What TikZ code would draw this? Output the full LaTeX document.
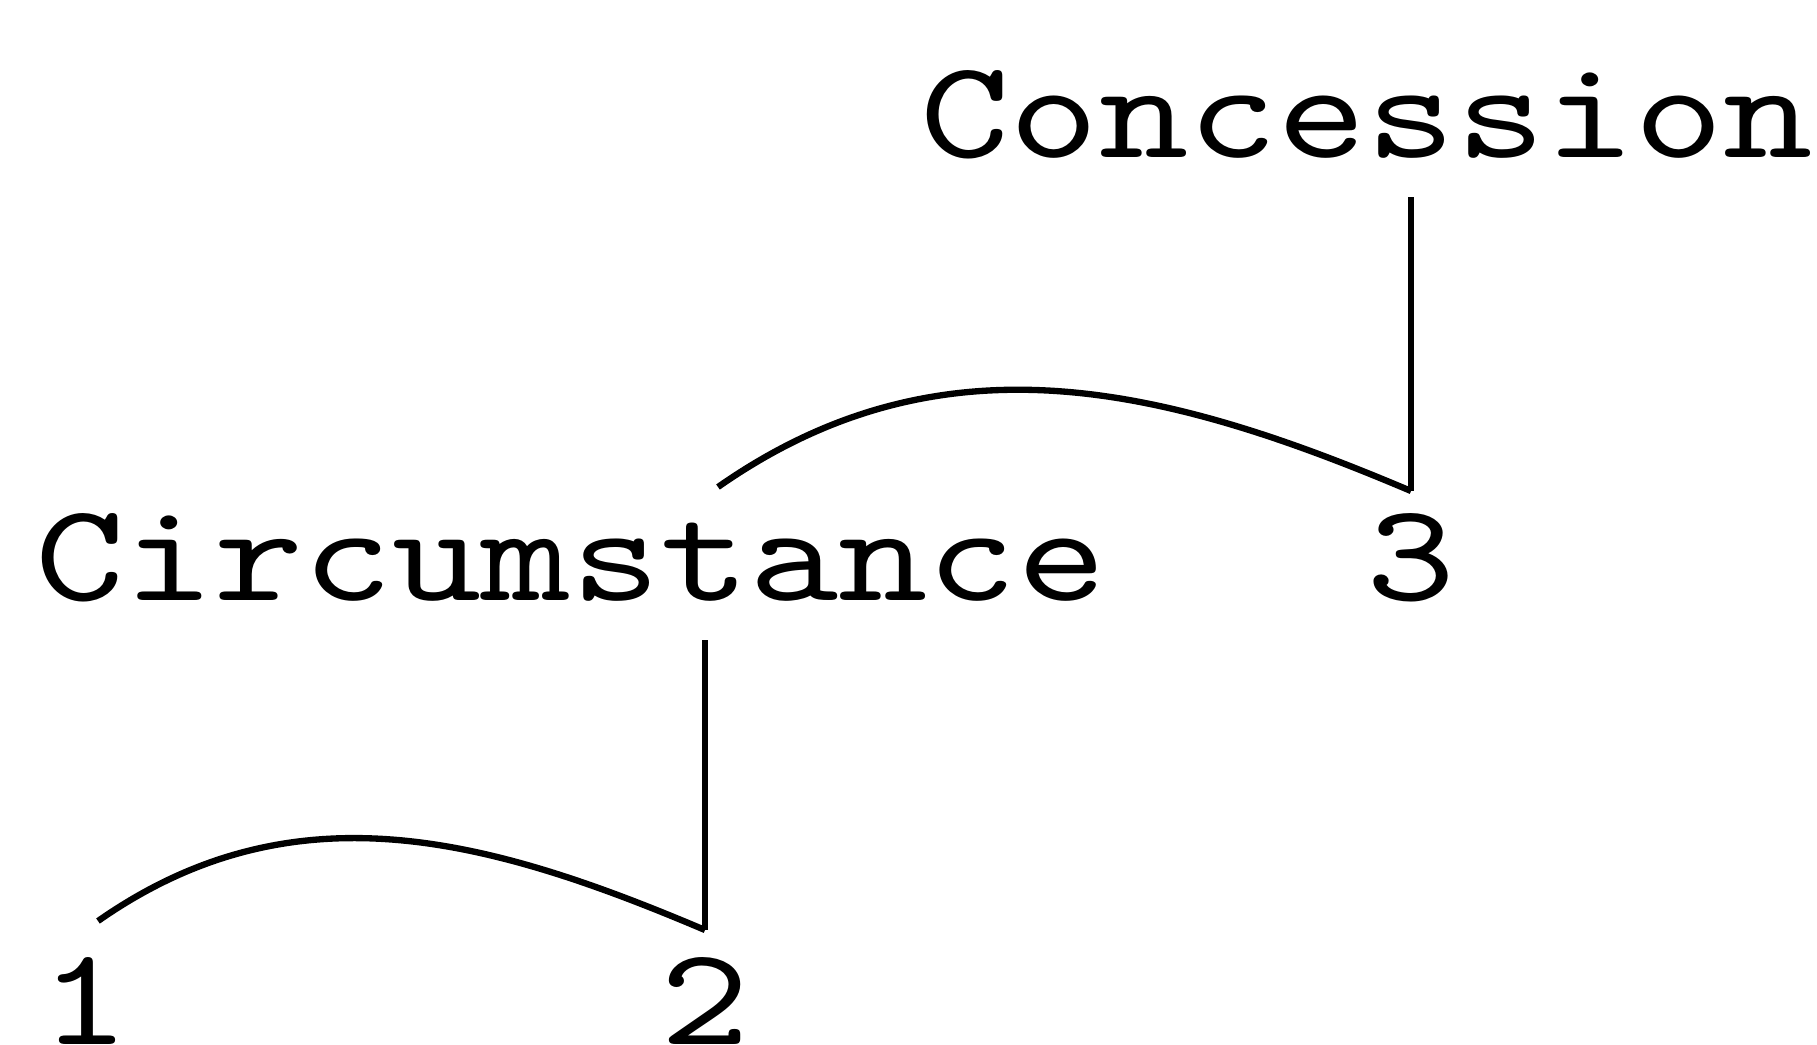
\documentclass[tikz,border=0pt]{standalone}
\usepackage{fontspec}
\newfontfamily\rstfont{lmmono10-regular.otf}[FakeStretch=1.215]
\usetikzlibrary{calc}

\begin{document}
\begin{tikzpicture}[
  rstlabel/.style={inner xsep=0pt,inner ysep=0.38cm,
    font=\rstfont\fontsize{39.8pt}{48pt}\selectfont},
  rstline/.style={line width=1.8pt}
]
  \useasboundingbox (0,0) rectangle (18.17,10.44);
  % Relations
  \node[rstlabel,anchor=base west] (concession) at (9.20,8.87) {Concession};
  \node[rstlabel,anchor=base west] (circ) at (0.35,4.44) {Circumstance};
  % Segments
  \node[rstlabel,anchor=base] (s1) at (0.85,0) {1};
  \node[rstlabel,anchor=base] (s2) at (7.05,0) {2};
  \node[rstlabel,anchor=base] (s3) at (14.11,4.44) {3};
  % Spans
  \draw[rstline] (concession.south -| s3.north) -- ([yshift=1.09cm]s3.base);
  \draw[rstline] ($(circ.base west)+(6.83,1.13)$) to[out=35,in=157] ([yshift=1.09cm]s3.base);
  \draw[rstline] (circ.south -| s2.north) -- ([yshift=1.14cm]s2.base);
  \draw[rstline] ($(s1.base)+(0.13,1.23)$) to[out=35,in=157] ([yshift=1.14cm]s2.base);
\end{tikzpicture}
\end{document}
